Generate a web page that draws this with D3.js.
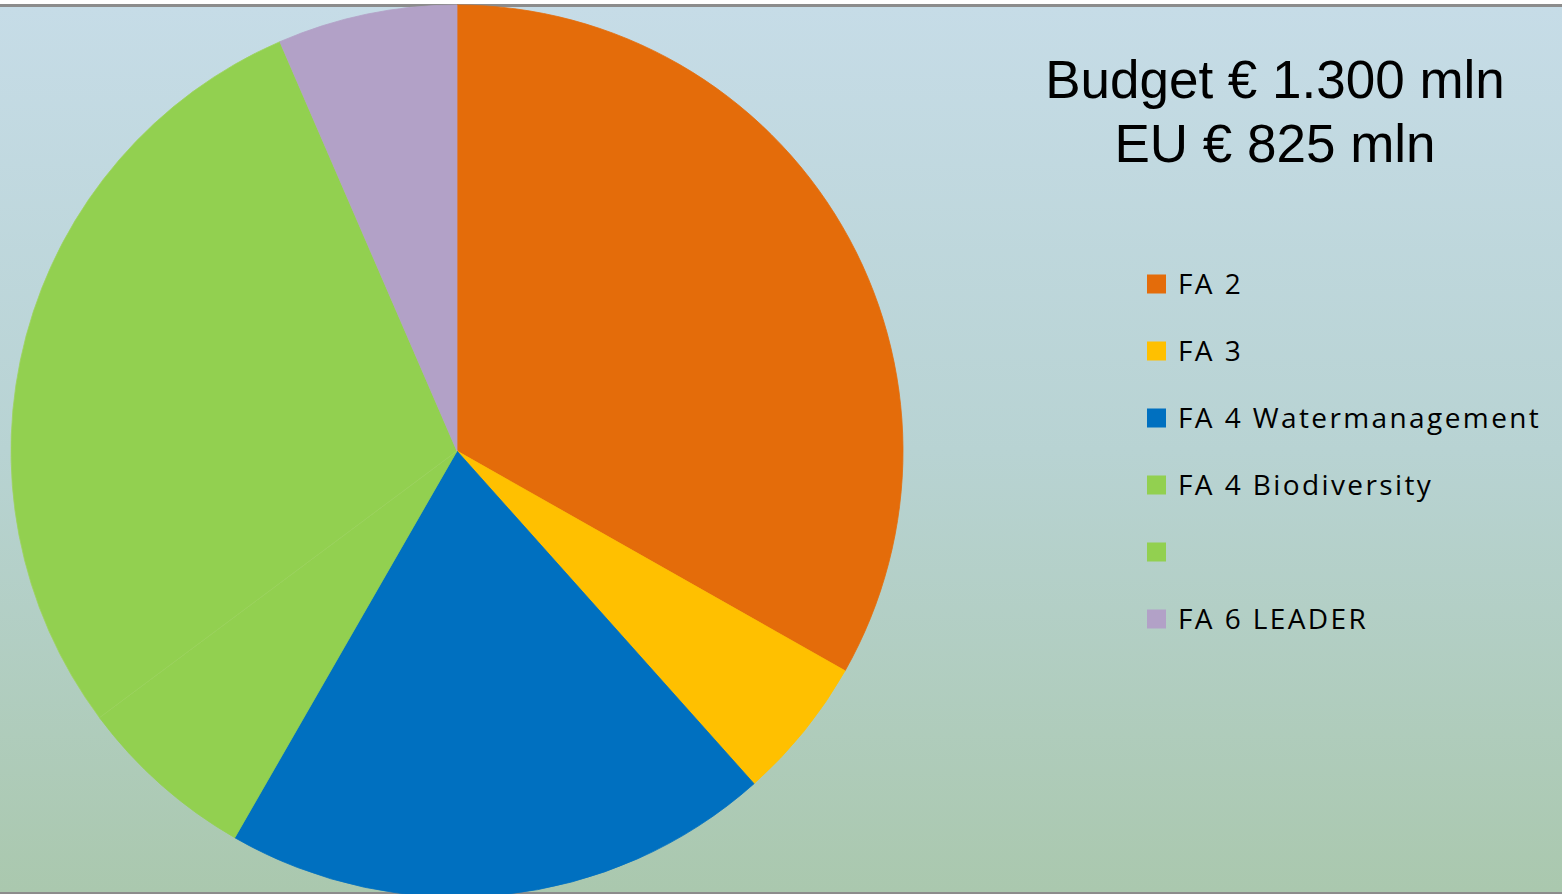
<!DOCTYPE html>
<html><head><meta charset="utf-8">
<script src="https://cdn.jsdelivr.net/npm/d3@7"></script>
<style>html,body{margin:0;padding:0;background:#fff;overflow:hidden}</style>
</head><body>
<svg id="c" width="1562" height="894"></svg>
<script>
const categories = ["FA 2", "FA 3", "FA 4 Watermanagement", "FA 4 Biodiversity", "", "FA 6 LEADER"];
const values = [33.2, 5.2, 19.9, 6.5, 28.7, 6.5];
const colors = ["#e46c0a", "#ffc000", "#0070c0", "#92d050", "#92d050", "#b2a1c7"];
const titleLines = ["Budget € 1.300 mln", "EU € 825 mln"];

const svg = d3.select("#c");
const defs = svg.append("defs");
const g = defs.append("linearGradient").attr("id","bg").attr("x1",0).attr("y1",0).attr("x2",0).attr("y2",1);
g.append("stop").attr("offset","0%").attr("stop-color","#c6dce7");
g.append("stop").attr("offset","50%").attr("stop-color","#b8d3d3");
g.append("stop").attr("offset","100%").attr("stop-color","#aac8ae");

svg.append("rect").attr("x",0).attr("y",4).attr("width",1562).attr("height",890).attr("fill","#8c8c8c");
svg.append("rect").attr("x",0).attr("y",7).attr("width",1562).attr("height",885).attr("fill","url(#bg)");

const cx = 457, cy = 451, r = 446;
const data = categories.map((c,i)=>({name:c, value:values[i], color:colors[i]}));
const pie = d3.pie().value(d=>d.value).sort(null);
const arc = d3.arc().innerRadius(0).outerRadius(r);
svg.append("g").attr("transform",`translate(${cx},${cy})`)
  .selectAll("path").data(pie(data)).join("path")
  .attr("d",arc).attr("fill",d=>d.data.color)
  .attr("stroke",(d,i)=> i===4 ? "#9dd35e" : d.data.color).attr("stroke-width",0.8);

const tg = svg.append("g").attr("font-family","'Liberation Sans', Arial, sans-serif").attr("font-size",53).attr("fill","#000").attr("text-anchor","middle");
titleLines.forEach((t,i)=>tg.append("text").attr("x",1275).attr("y",98+i*64).text(t));

const y = d3.scalePoint().domain(d3.range(categories.length)).range([284, 619]);
const lg = svg.append("g");
data.forEach((d,i)=>{
  lg.append("rect").attr("x",1147).attr("y",y(i)-9.5).attr("width",19).attr("height",19).attr("fill",d.color);
  lg.append("text").attr("x",1178).attr("y",y(i)+9.5).attr("font-family","'Open Sans', Lato, sans-serif")
    .attr("font-size",28).attr("letter-spacing",2.4).attr("fill","#000").text(d.name);
});
</script>
</body></html>
